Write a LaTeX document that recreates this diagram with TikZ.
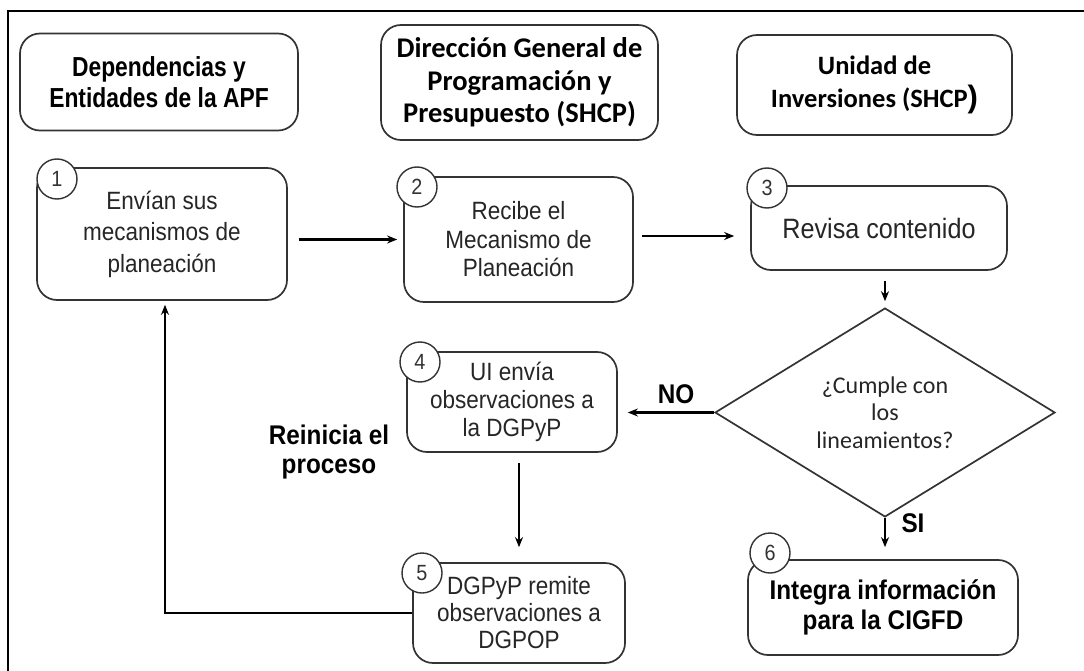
\documentclass[tikz,border=0pt]{standalone}
\usepackage{fontspec}
\setmainfont{Liberation Sans}
\newfontfamily\bodyf[FakeStretch=0.9]{Liberation Sans}
\newfontfamily\boldf[FakeStretch=0.9]{Liberation Sans Bold}
\newfontfamily\hdAf[FakeStretch=0.83]{Liberation Sans Bold}
\newfontfamily\hdfont{Carlito}
\newfontfamily\dfont{Carlito}
\usetikzlibrary{shapes.geometric,arrows.meta}
\begin{document}
\begin{tikzpicture}[x=1pt,y=-1pt,
 box/.style={draw=black!80,line width=1.7pt,rounded corners=20pt,fill=white,align=center,text=black!85,inner sep=2pt,font=\bodyf\fontsize{25}{28.5}\selectfont},
 hdr/.style={box,font=\hdfont\bfseries\fontsize{29}{32.5}\selectfont,text=black},
 num/.style={circle,draw=black!80,line width=1.4pt,fill=white,minimum size=40pt,inner sep=0pt,font=\bodyf\fontsize{22}{22}\selectfont,text=black!80},
 arr/.style={line width=2.4pt,-{Stealth[length=10pt,width=8pt]}},
 lbl/.style={font=\boldf\fontsize{27}{29}\selectfont,align=center,text=black}]
\useasboundingbox (0,0) rectangle (1084,671);
\fill[white] (0,0) rectangle (1084,671);
\draw[line width=1.2pt] (8,671) -- (8,11) -- (1084,11);
% headers
\node[hdr,minimum width=278pt,minimum height=97pt,font=\hdAf\fontsize{27.5}{31}\selectfont] (hA) at (159,82) {Dependencias y\\Entidades de la APF};
\node[hdr,minimum width=277pt,minimum height=115pt,font=\hdfont\bfseries\fontsize{28.5}{32.5}\selectfont] (hB) at (519.5,82.5) {Dirección General de\\Programación y\\Presupuesto (SHCP)};
\node[hdr,minimum width=275pt,minimum height=100pt,font=\hdfont\bfseries\fontsize{26.5}{33}\selectfont] (hC) at (874.5,85) {Unidad de\\Inversiones (SHCP{\fontspec{Liberation Sans}\fontsize{31}{31}\selectfont)}};
% steps
\node[box,minimum width=250pt,minimum height=132pt,font=\bodyf\fontsize{25}{31.5}\selectfont] (s1) at (162,234) {Envían sus\\mecanismos de\\planeación};
\node[box,minimum width=229pt,minimum height=125pt] (s2) at (518.5,239.5) {Recibe el\\Mecanismo de\\Planeación};
\node[box,minimum width=256pt,minimum height=84pt,font=\bodyf\fontsize{28}{30}\selectfont] (s3) at (879,228) {Revisa contenido};
\node[draw=black!80,line width=1.7pt,diamond,minimum width=340pt,minimum height=169pt,inner sep=0pt,align=center,text=black!85,font=\dfont\fontsize{24}{27.5}\selectfont] (d) at (885,412.5) {¿Cumple con\\los\\lineamientos?};
\node[box,minimum width=210pt,minimum height=100pt,font=\bodyf\fontsize{25}{28}\selectfont] (s4) at (512,402) {UI envía\\observaciones a\\la DGPyP};
\node[box,minimum width=212pt,minimum height=100pt,font=\bodyf\fontsize{25}{27}\selectfont] (s5) at (519,613) {DGPyP remite\\observaciones a\\DGPOP};
\node[box,minimum width=270pt,minimum height=95pt,font=\boldf\fontsize{27}{30}\selectfont,text=black] (s6) at (883,607.5) {Integra información\\para la CIGFD};
% number circles
\node[num] (n1) at (57,179) {1};
\node[num] (n2) at (417,187) {2};
\node[num] (n3) at (767,188) {3};
\node[num] (n4) at (420,362) {4};
\node[num] (n5) at (422,573) {5};
\node[num] (n6) at (770,553) {6};
% labels
\node[lbl] (lno) at (676,394) {NO};
\node[lbl] (lsi) at (913,523) {SI};
\node[lbl] (lre) at (329,452) {Reinicia el\\proceso};
% arrows
\draw[arr,shorten <=11pt,shorten >=6pt] (s1.east |- s2.west) -- (s2.west);
\draw[arr,shorten <=8pt,shorten >=16pt] ([yshift=3.5pt]s2.east) -- ([yshift=3.5pt]s2.east -| s3.west);
\draw[arr,shorten <=10pt,shorten >=6pt] (s3.south -| d.north) -- (d.north);
\draw[arr,shorten >=10pt] (d.west) -- (d.west -| s4.east);
\draw[arr,shorten <=10pt,shorten >=15pt] (s4.south -| s5.north) -- (s5.north);
\draw[arr,shorten >=4pt] (s5.west) -- ([xshift=3pt]s5.west -| s1.south) -- ([xshift=3pt]s1.south);
\draw[arr,shorten >=12pt] (d.south) -- (d.south |- s6.north);
\end{tikzpicture}
\end{document}
